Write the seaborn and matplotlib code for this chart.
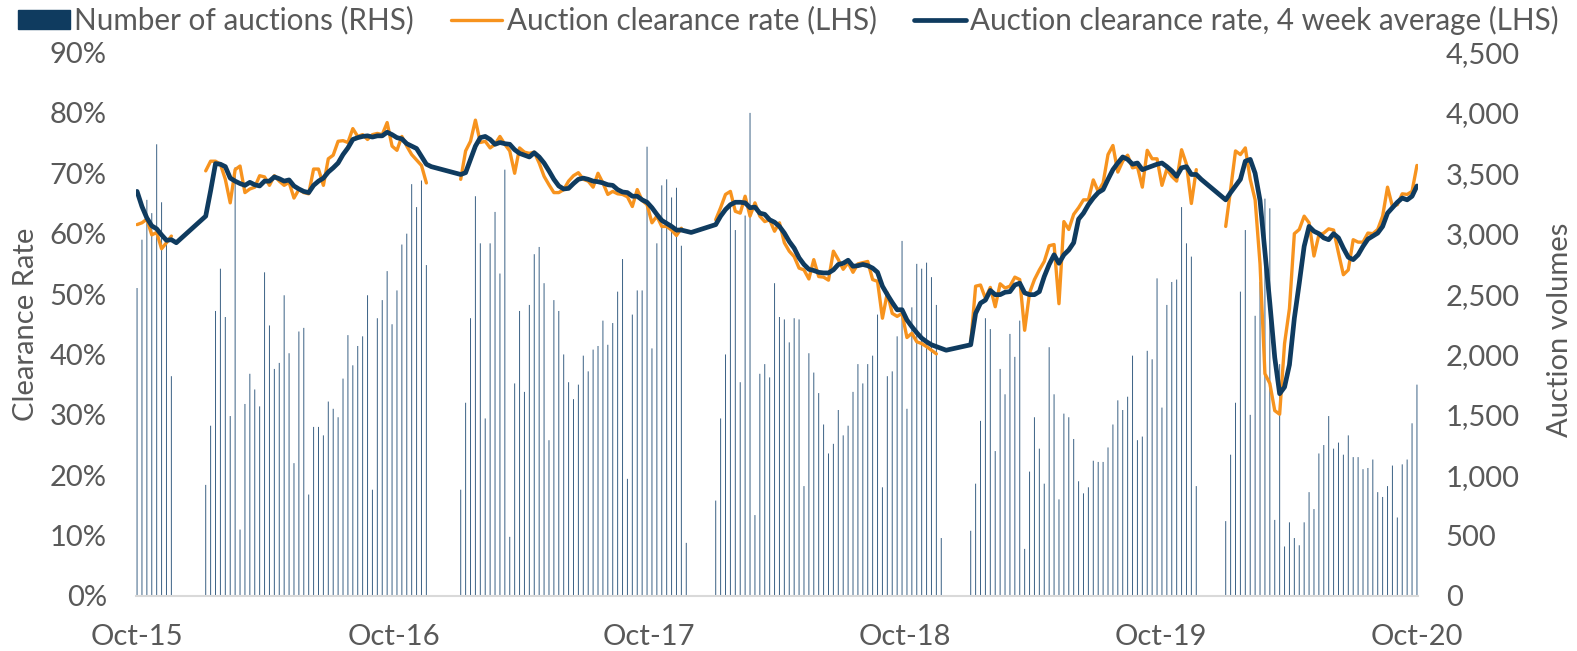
import numpy as np
import pandas as pd
import matplotlib
matplotlib.use("Agg")
import matplotlib.pyplot as plt
from matplotlib.lines import Line2D
from matplotlib.patches import Patch
from matplotlib.ticker import FuncFormatter
import seaborn as sns

nan = np.nan

# weekly results Oct-2015 .. Oct-2020, nothing reported over the Christmas break
first_week = "2015-10-04"

auctions = (
    [2550, 2950, 3280, 3170, 3740, 3260, 2920, 1820]
    + [nan] * 6
    + [920, 1410, 2360, 2710, 2310, 1490, 3550, 550, 1590, 1840, 1710, 1570, 2680, 2240, 1880, 1930,
       2490, 2010, 1100, 2190, 2220, 840, 1400, 1400, 1330, 1610, 1550, 1480, 1800, 2160, 1910, 2070,
       2150, 2490, 880, 2300, 2450, 2690, 2250, 2530, 2910, 3000, 3410, 3220, 3440, 2740]
    + [nan] * 6
    + [880, 1600, 2300, 3310, 2920, 1470, 2920, 3180, 2670, 3530, 490, 1760, 2360, 1690, 2410, 2830,
       2890, 2590, 1290, 2450, 2360, 2000, 1770, 1630, 1750, 1990, 1860, 2040, 2070, 2280, 2080, 2260,
       2520, 2790, 970, 2330, 2530, 2530, 3720, 2050, 2920, 3400, 3450, 3300, 3380, 2900, 440]
    + [nan] * 5
    + [790, 1470, 2000, 3220, 3030, 1770, 3150, 4000, 670, 1840, 1920, 1810, 2590, 2310, 2290, 2100,
       2300, 2290, 910, 2010, 1850, 1680, 1420, 1180, 1260, 1540, 1330, 1410, 1690, 1920, 1760, 1920,
       1990, 2330, 900, 1820, 1860, 2150, 2940, 1550, 2390, 2750, 2710, 2760, 2640, 2410, 480]
    + [nan] * 5
    + [540, 930, 1450, 2300, 2210, 1200, 1880, 1670, 2170, 1980, 2280, 390, 1030, 1480, 1220, 930,
       2060, 1670, 800, 1510, 1480, 1300, 950, 850, 900, 1120, 1110, 1110, 1230, 1420, 1620, 1540,
       1650, 1990, 1290, 1320, 2030, 1960, 2630, 1560, 2410, 2600, 2620, 3220, 2920, 2810, 910]
    + [nan] * 5
    + [620, 1170, 1600, 2520, 3030, 1500, 2320, 2600, 3290, 3210, 630, 1920, 410, 610, 480, 420,
       610, 860, 720, 1180, 1250, 1490, 1220, 1270, 1170, 1330, 1150, 1150, 1050, 1060, 1130, 860,
       820, 910, 1080, 650, 1090, 1130, 1430, 1750]
)

clearance = (
    [61.5, 61.8, 62.4, 59.8, 60.2, 57.5, 58.5, 59.6]
    + [nan] * 6
    + [70.4, 72.0, 72.0, 71.5, 69.0, 65.1, 70.6, 71.2, 66.8, 67.4, 67.7, 69.6, 69.4, 68.0, 69.6, 68.7,
       68.0, 68.5, 65.9, 67.3, 66.8, 66.6, 70.7, 70.7, 68.0, 72.4, 73.0, 75.3, 75.4, 75.1, 77.4, 76.1,
       76.4, 75.6, 76.4, 76.6, 76.4, 78.4, 74.5, 73.8, 76.1, 74.5, 73.1, 72.2, 71.3, 68.4]
    + [nan] * 6
    + [69.0, 73.7, 75.3, 78.8, 75.1, 75.3, 74.2, 74.8, 76.1, 74.8, 73.7, 70.0, 74.2, 73.5, 73.3, 73.5,
       71.7, 69.5, 68.1, 66.8, 66.8, 67.3, 68.7, 69.6, 70.1, 69.0, 68.7, 67.7, 70.0, 68.4, 66.5, 67.0,
       66.6, 66.5, 66.1, 64.5, 67.3, 65.5, 64.8, 61.8, 62.9, 61.2, 61.2, 60.6, 59.7, 60.9]
    + [nan] * 6
    + [62.3, 64.3, 66.5, 67.0, 63.7, 63.4, 66.2, 62.9, 65.1, 62.9, 62.0, 62.3, 60.4, 61.8, 58.5, 57.1,
       56.2, 54.3, 54.0, 52.5, 55.7, 52.9, 52.8, 52.3, 57.1, 55.7, 54.1, 55.2, 53.6, 55.0, 55.2, 55.4,
       52.4, 52.1, 46.0, 50.2, 46.8, 46.3, 46.8, 42.8, 43.5, 42.1, 41.8, 41.3, 40.7, 40.1]
    + [nan] * 6
    + [41.8, 51.3, 51.5, 49.3, 51.1, 47.9, 51.7, 51.0, 51.3, 52.8, 52.4, 44.0, 50.2, 52.4, 54.0, 55.4,
       58.0, 58.2, 48.4, 62.0, 60.7, 63.2, 64.3, 65.6, 65.6, 68.9, 67.0, 68.4, 73.1, 74.6, 70.2, 72.0,
       73.0, 70.9, 71.1, 67.7, 73.8, 72.4, 72.4, 68.0, 70.7, 69.5, 68.7, 73.9, 71.5, 65.0, 70.6]
    + [nan] * 5
    + [61.2, 67.3, 73.7, 73.1, 74.2, 69.0, 65.6, 55.0, 36.8, 35.2, 30.7, 30.1, 41.8, 47.6, 60.0, 60.7,
       62.9, 61.8, 56.3, 59.8, 60.1, 60.8, 60.6, 56.8, 53.2, 54.0, 59.0, 58.6, 58.6, 60.1, 60.0, 60.7,
       62.9, 67.7, 64.5, 64.8, 66.6, 66.5, 67.0, 71.3]
)

clearance_4wk = (
    [67.0, 64.5, 62.6, 61.3, 60.8, 59.8, 58.9, 59.0, 58.5]
    + [nan] * 5
    + [62.9, 67.1, 71.6, 71.5, 71.1, 69.2, 68.7, 68.3, 68.0, 68.5, 68.1, 67.9, 68.7, 68.7, 69.4, 69.1,
       68.7, 68.9, 67.9, 67.4, 67.0, 66.8, 68.0, 68.7, 69.2, 70.2, 70.9, 71.7, 73.1, 74.2, 75.6, 75.9,
       76.1, 76.2, 76.0, 76.2, 76.2, 76.8, 76.4, 75.9, 75.7, 74.9, 74.5, 74.1, 72.8, 71.5, 71.1]
    + [nan] * 5
    + [69.8, 70.1, 72.3, 74.5, 75.9, 76.1, 75.6, 74.8, 75.1, 74.9, 74.8, 73.9, 73.3, 73.0, 72.7, 73.4,
       72.7, 71.7, 70.4, 69.0, 67.9, 67.4, 67.5, 68.3, 69.0, 69.2, 69.0, 68.7, 68.6, 68.4, 68.1, 68.0,
       67.3, 66.9, 66.8, 66.2, 66.2, 65.6, 65.2, 64.3, 63.2, 62.2, 61.7, 61.2, 60.6, 60.6, 60.4, 60.2]
    + [nan] * 4
    + [61.5, 62.9, 64.0, 64.8, 65.2, 65.2, 65.1, 64.3, 64.4, 63.4, 63.2, 62.3, 61.9, 61.2, 60.1, 58.7,
       57.6, 56.0, 54.9, 54.1, 53.9, 53.6, 53.5, 53.5, 54.0, 54.9, 55.1, 55.6, 54.6, 54.7, 54.9, 54.7,
       54.3, 53.6, 51.3, 49.9, 48.6, 47.4, 47.4, 45.7, 44.6, 43.6, 42.7, 42.1, 41.6, 41.3, 41.0, 40.7]
    + [nan] * 4
    + [41.6, 46.8, 48.5, 49.0, 50.6, 49.9, 49.9, 50.3, 50.4, 51.5, 51.8, 50.2, 49.9, 49.9, 50.4, 52.9,
       54.9, 56.5, 55.1, 56.5, 57.3, 58.5, 62.4, 63.4, 64.8, 65.9, 66.8, 67.3, 69.0, 70.6, 71.7, 72.7,
       72.3, 71.5, 71.7, 70.6, 70.9, 71.2, 71.5, 71.7, 71.1, 70.4, 69.5, 70.9, 71.1, 69.8, 69.8, 69.0]
    + [nan] * 4
    + [65.6, 66.8, 67.9, 69.0, 72.0, 72.3, 70.0, 65.5, 57.0, 48.5, 39.5, 33.5, 34.6, 38.3, 46.0, 51.8,
       57.9, 61.2, 60.4, 60.0, 59.3, 59.0, 60.0, 59.3, 57.6, 56.1, 55.7, 56.5, 57.9, 59.1, 59.6, 60.1,
       61.2, 63.4, 64.3, 65.2, 65.9, 65.6, 66.2, 67.9]
)

tick_dates = ["2015-10-04", "2016-10-04", "2017-10-04", "2018-10-04", "2019-10-04", "2020-10-04"]
tick_labels = ["Oct-15", "Oct-16", "Oct-17", "Oct-18", "Oct-19", "Oct-20"]

df = pd.DataFrame({
    "week": pd.date_range(first_week, periods=len(auctions), freq="7D"),
    "auctions": auctions,
    "clearance": clearance,
    "avg4": clearance_4wk,
})
# each run of weeks between breaks gets its own id so the weekly line is not joined over the gap
df["season"] = df["clearance"].isna().cumsum()

orange = "#f7931e"
navy = "#0f3b5f"
grey = "#595959"
fs = 21

sns.set_style("white")
plt.rcParams["font.family"] = ["Lato", "DejaVu Sans"]

fig = plt.figure(figsize=(15.77, 6.51), dpi=100)
ax = fig.add_axes([136 / 1577, 1 - 596 / 651, (1418 - 136) / 1577, (596 - 52.5) / 651])
ax2 = ax.twinx()

bars = df.dropna(subset=["auctions"])
# bars are ~1px wide, so turn off snapping or some of them vanish
ax2.bar(bars["week"], bars["auctions"], width=pd.Timedelta(hours=34), color="#3d6386",
        linewidth=0, snap=False)

sns.lineplot(data=df.dropna(subset=["clearance"]), x="week", y="clearance", units="season",
             estimator=None, color=orange, linewidth=2.4, solid_joinstyle="round", ax=ax)
sns.lineplot(data=df.dropna(subset=["avg4"]), x="week", y="avg4", estimator=None,
             color=navy, linewidth=3.4, solid_joinstyle="round", ax=ax)

ax.set_zorder(ax2.get_zorder() + 1)
ax.patch.set_visible(False)

ax.set_xlim(df["week"].iloc[0] - pd.Timedelta(days=1.5), df["week"].iloc[-1] + pd.Timedelta(days=1.5))
ax.set_ylim(0, 90)
ax2.set_ylim(0, 4500)
ax.set_yticks(range(0, 91, 10))
ax2.set_yticks(range(0, 4501, 500))
ax.yaxis.set_major_formatter(FuncFormatter(lambda v, p: f"{v:.0f}%"))
ax2.yaxis.set_major_formatter(FuncFormatter(lambda v, p: f"{v:,.0f}"))
ax.set_xticks(pd.to_datetime(tick_dates))
ax.set_xticklabels(tick_labels)

sns.despine(ax=ax, left=True)
sns.despine(ax=ax2, left=True, right=True, bottom=True)
ax.spines["bottom"].set_color("#d9d9d9")
ax.spines["bottom"].set_linewidth(1.5)

ax.tick_params(axis="both", length=0, labelsize=fs, colors=grey)
ax.tick_params(axis="y", pad=21)
ax.tick_params(axis="x", pad=20)
ax2.tick_params(axis="y", length=0, labelsize=fs, colors=grey, pad=20)

ax.set_xlabel("")
ax.set_ylabel("Clearance Rate", fontsize=fs, color=grey)
ax.yaxis.set_label_coords(-0.076, 0.5)
ax2.set_ylabel("Auction volumes", fontsize=fs, color=grey)
ax2.yaxis.set_label_coords(1.101, 0.49)

handles = [Patch(color=navy),
           Line2D([], [], color=orange, linewidth=2.4),
           Line2D([], [], color=navy, linewidth=3.4)]
labels = ["Number of auctions (RHS)", "Auction clearance rate (LHS)",
          "Auction clearance rate, 4 week average (LHS)"]
fig.legend(handles, labels, loc="upper left", bbox_to_anchor=(0.0, 1.0 + 12 / 651), ncol=3,
           frameon=False, fontsize=21.3, handlelength=1.75, handleheight=0.65,
           handletextpad=0.15, columnspacing=1.25, borderpad=0.1, labelcolor=grey)

fig.savefig("out.png", dpi=100)
